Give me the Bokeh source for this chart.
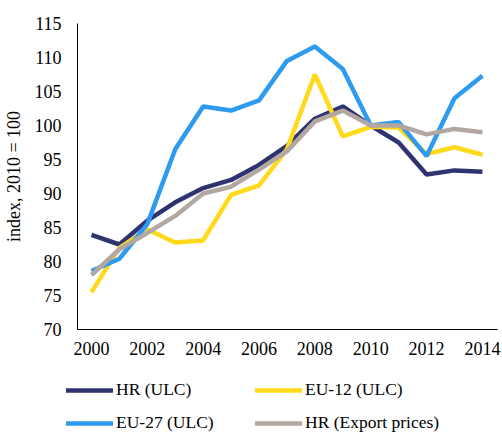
from bokeh.plotting import figure
from bokeh.models import Legend, LegendItem, FixedTicker
from bokeh.layouts import column
from bokeh.embed import file_html
from bokeh.resources import INLINE

years = list(range(2000, 2015))
hr_ulc = [83.9, 82.5, 86.0, 88.7, 90.8, 92.0, 94.2, 97.0, 101.0, 102.8, 100.0, 97.5, 92.8, 93.4, 93.2]
eu12_ulc = [75.5, 82.0, 84.7, 82.8, 83.1, 89.8, 91.2, 96.5, 107.5, 98.4, 99.8, 99.7, 95.8, 96.8, 95.7]
eu27_ulc = [78.6, 80.4, 85.5, 96.5, 102.8, 102.2, 103.7, 109.5, 111.6, 108.3, 100.0, 100.5, 95.5, 104.0, 107.3]
hr_export = [78.0, 81.8, 84.2, 86.7, 90.0, 91.0, 93.5, 96.2, 100.6, 102.2, 100.0, 100.0, 98.7, 99.5, 99.0]

series_names = ["HR (ULC)", "EU-12 (ULC)", "EU-27 (ULC)", "HR (Export prices)"]
colors = ["#2f3470", "#ffd91a", "#2d9bf0", "#b3a7a1"]
y_ticks = [70, 75, 80, 85, 90, 95, 100, 105, 110, 115]
x_ticks = [2000, 2002, 2004, 2006, 2008, 2010, 2012, 2014]

FONT = "Liberation Serif"
FS = "18px"

p = figure(width=502, height=370, x_range=(1999.5, 2014.54), y_range=(70, 115),
           output_backend="svg", toolbar_location=None, title=None,
           min_border_left=76, min_border_top=23, min_border_bottom=41, min_border_right=5)
p.frame_align = False
p.outline_line_color = None
p.xgrid.grid_line_color = None
p.ygrid.grid_line_color = None

for ax in (p.xaxis[0], p.yaxis[0]):
    ax.major_tick_line_color = None
    ax.minor_tick_line_color = None
    ax.major_tick_out = 0
    ax.major_tick_in = 0
    ax.axis_line_color = "black"
    ax.axis_line_width = 1
    ax.major_label_text_font = FONT
    ax.major_label_text_font_size = FS
    ax.major_label_text_color = "black"

p.yaxis[0].ticker = FixedTicker(ticks=y_ticks)
p.xaxis[0].ticker = FixedTicker(ticks=x_ticks)
p.yaxis[0].major_label_standoff = 16
p.xaxis[0].major_label_standoff = 12
p.yaxis[0].axis_label = "index, 2010 = 100"
p.yaxis[0].axis_label_text_font = FONT
p.yaxis[0].axis_label_text_font_size = FS
p.yaxis[0].axis_label_text_font_style = "normal"
p.yaxis[0].axis_label_text_color = "black"
p.yaxis[0].axis_label_standoff = 8

all_series = [hr_ulc, eu12_ulc, eu27_ulc, hr_export]
for vals, c in zip(all_series, colors):
    p.line(years, vals, line_color=c, line_width=4.5)

# legend-only strip below the chart (its own range hides the series, only the legend shows)
pl = figure(width=502, height=63, x_range=(0, 1), y_range=(0, 1),
            output_backend="svg", toolbar_location=None, title=None,
            min_border_left=0, min_border_right=0, min_border_top=0, min_border_bottom=0)
pl.frame_align = False
pl.axis.visible = False
pl.grid.visible = False
pl.outline_line_color = None
swatches = [pl.line(years, vals, line_color=c, line_width=4.5, line_cap="round")
            for vals, c in zip(all_series, colors)]

def make_legend(idx, loc):
    return Legend(items=[LegendItem(label=series_names[i], renderers=[swatches[i]]) for i in idx],
                  location=loc, orientation="vertical",
                  glyph_width=47, glyph_height=20, label_height=20,
                  label_standoff=3, spacing=12, padding=0, margin=0,
                  border_line_color=None, background_fill_alpha=0,
                  label_text_font=FONT, label_text_font_size="17.5px",
                  label_text_color="black")

pl.add_layout(make_legend([0, 2], (66, 0)), "center")
pl.add_layout(make_legend([1, 3], (255, 0)), "center")

open("out.html", "w").write(file_html(column(p, pl), INLINE))
